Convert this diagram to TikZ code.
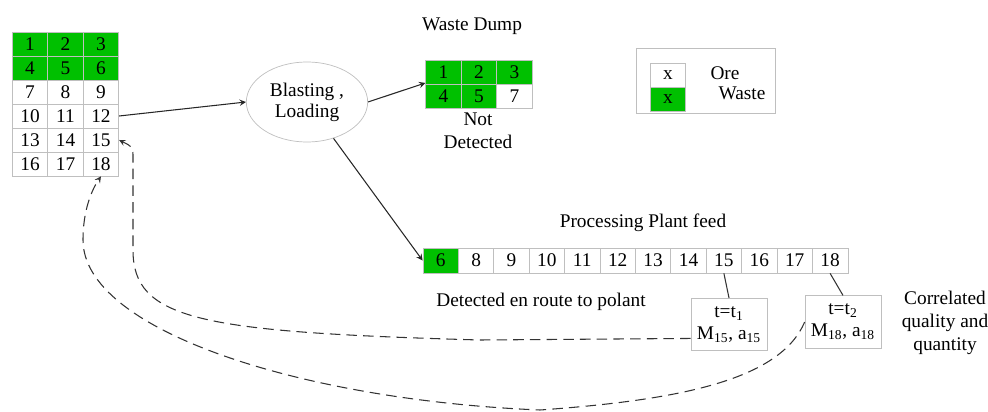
\documentclass[tikz,border=0pt]{standalone}
\usepackage{fontspec}
\setmainfont{Liberation Serif}
\newfontfamily\figfont{Liberation Serif}
\usepackage{xcolor}
\usepackage{tikz}
\usetikzlibrary{shapes.geometric, arrows.meta, positioning}
\definecolor{wastegreen}{HTML}{00C000}
\definecolor{cellgray}{HTML}{BFBFBF}
\tikzset{
    orecell/.style={rectangle, draw=cellgray, fill=white, minimum width=0.71cm, minimum height=0.48cm, inner sep=0pt, font=\figfont\fontsize{11}{13}\selectfont},
    wastecell/.style={orecell, fill=wastegreen},
    arrow/.style={semithick, ->, >=stealth, color=black!85},
    backarrow/.style={semithick, ->, >=stealth, dash pattern=on 6pt off 3.5pt, color=black!80}
}

\begin{document}
\begin{tikzpicture}[
    x=0.02cm, y=-0.02cm,
    every node/.style={align=center, font=\figfont\fontsize{11}{13}\selectfont},
    feedcell/.style={orecell, minimum height=0.5cm},
    timebox/.style={rectangle, draw=cellgray, minimum width=1.44cm, minimum height=1.05cm, font=\figfont\fontsize{11}{12.5}\selectfont}
]
    \useasboundingbox (0,0) rectangle (988,412);

    \node[wastecell] (g1) at (30,44) {1};
    \node[wastecell] (g2) at (65.5,44) {2};
    \node[wastecell] (g3) at (101,44) {3};
    \node[wastecell] (g4) at (30,68) {4};
    \node[wastecell] (g5) at (65.5,68) {5};
    \node[wastecell] (g6) at (101,68) {6};
    \node[orecell] (g7) at (30,92) {7};
    \node[orecell] (g8) at (65.5,92) {8};
    \node[orecell] (g9) at (101,92) {9};
    \node[orecell] (g10) at (30,116) {10};
    \node[orecell] (g11) at (65.5,116) {11};
    \node[orecell] (g12) at (101,116) {12};
    \node[orecell] (g13) at (30,140) {13};
    \node[orecell] (g14) at (65.5,140) {14};
    \node[orecell] (g15) at (101,140) {15};
    \node[orecell] (g16) at (30,164) {16};
    \node[orecell] (g17) at (65.5,164) {17};
    \node[orecell] (g18) at (101,164) {18};

    \node[ellipse, draw=cellgray, minimum width=2.38cm, minimum height=1.6cm, font=\figfont\fontsize{11}{12}\selectfont] (blast) at (307,102) {Blasting ,\\Loading};

    \node (dumplbl) at (472,26) {Waste Dump};
    \node[wastecell] (w1) at (443.5,72.5) {1};
    \node[wastecell] (w2) at (479,72.5) {2};
    \node[wastecell] (w3) at (514.5,72.5) {3};
    \node[wastecell] (w4) at (443.5,96) {4};
    \node[wastecell] (w5) at (479,96) {5};
    \node[orecell] (w7) at (514.5,96) {7};
    \node (notdet) at (478,131) {Not\\Detected};

    \node[draw=cellgray, minimum width=2.78cm, minimum height=1.3cm] (legend) at (705.5,80.5) {};
    \node[orecell] (keyore) at (668,75) {x};
    \node[wastecell] (keywaste) at (668,99) {x};
    \node (oretxt) at (725,73) {Ore};
    \node (wastetxt) at (742,93) {Waste};

    \node (feedlbl) at (643,223) {Processing Plant feed};
    \node[feedcell, fill=wastegreen] (f6) at (440.7,260.5) {6};
    \node[feedcell] (f8) at (476.1,260.5) {8};
    \node[feedcell] (f9) at (511.5,260.5) {9};
    \node[feedcell] (f10) at (546.9,260.5) {10};
    \node[feedcell] (f11) at (582.3,260.5) {11};
    \node[feedcell] (f12) at (617.7,260.5) {12};
    \node[feedcell] (f13) at (653.1,260.5) {13};
    \node[feedcell] (f14) at (688.5,260.5) {14};
    \node[feedcell] (f15) at (723.9,260.5) {15};
    \node[feedcell] (f16) at (759.3,260.5) {16};
    \node[feedcell] (f17) at (794.7,260.5) {17};
    \node[feedcell] (f18) at (830.1,260.5) {18};
    \node (enroute) at (541,302) {Detected en route to polant};

    \node[timebox] (tone) at (729,324.5) {t=t\textsubscript{1}\\M\textsubscript{15}, a\textsubscript{15}};
    \node[timebox] (ttwo) at (843,322) {t=t\textsubscript{2}\\M\textsubscript{18}, a\textsubscript{18}};
    \node (corr) at (945,323) {Correlated\\quality and\\quantity};

    \draw[arrow] (g12.east) -- (blast.west);
    \draw[arrow] (blast.east) -- (w1.210);
    \draw[arrow] (blast) -- (f6.west);
    \draw[semithick, color=black!80] (f15.south) -- (tone.north);
    \draw[semithick, color=black!80] (f18.south) -- (ttwo.north);

    \draw[backarrow] (tone.200) -- (480,340) .. controls (200,332) and (133,320) .. (133,250) -- (133,158) .. controls (133,147) .. (g15.east);
    \draw[backarrow] (ttwo.west) .. controls (780,380) and (680,400) .. (540,410) .. controls (300,400) and (83,330) .. (83,240) .. controls (83,205) and (95,185) .. (g18.south);
\end{tikzpicture}
\end{document}
